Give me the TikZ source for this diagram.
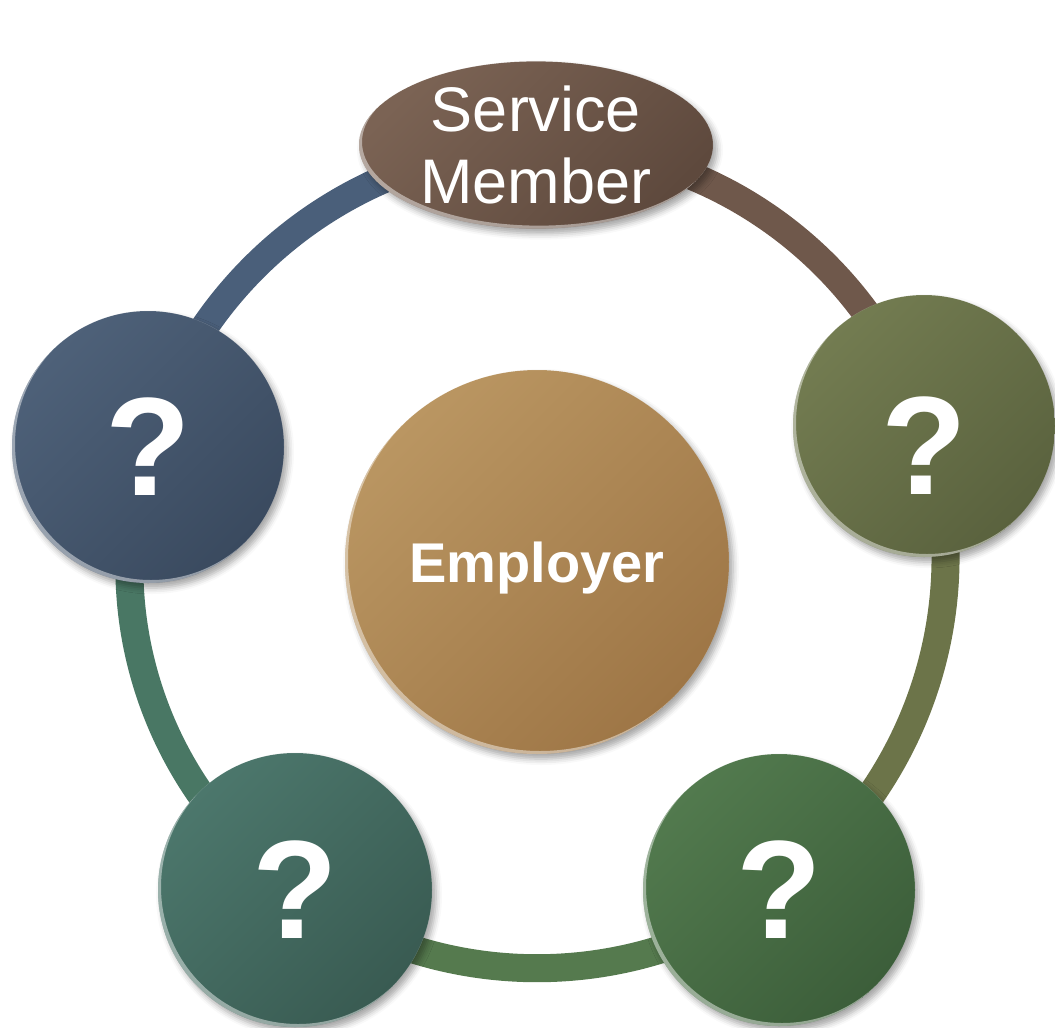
\documentclass[tikz,border=0pt]{standalone}
\usepackage{fontspec}
\setmainfont{Liberation Sans}
\usetikzlibrary{shapes.geometric}
\usetikzlibrary{calc,backgrounds,shadows.blur}

% fills of the bubbles (light, dark)
\definecolor{smlight}{HTML}{7B6354}\definecolor{smdark}{HTML}{5E493D}
\definecolor{emlight}{HTML}{BA9662}\definecolor{emdark}{HTML}{9E7646}
\definecolor{slatelight}{HTML}{4E6179}\definecolor{slatedark}{HTML}{3A4A5F}
\definecolor{olivelight}{HTML}{737C51}\definecolor{olivedark}{HTML}{5A623E}
\definecolor{teallight}{HTML}{4C776C}\definecolor{tealdark}{HTML}{395B52}
\definecolor{greenlight}{HTML}{527A4E}\definecolor{greendark}{HTML}{3C5E3A}
% ring pieces
\definecolor{ringslate}{HTML}{4A5F7A}
\definecolor{ringbrown}{HTML}{6F584B}
\definecolor{ringolive}{HTML}{6C7449}
\definecolor{ringgreen}{HTML}{557A4E}
\definecolor{ringteal}{HTML}{497764}

\begin{document}
\begin{tikzpicture}[every node/.style={inner sep=0pt,white},
	paint/.style 2 args={top color=#1, bottom color=#2, shading angle=45},
	bubble/.style={
		blur shadow={shadow xshift=4pt, shadow yshift=-5pt, shadow blur radius=6pt, shadow opacity=35},
		path picture={
			\fill[white, opacity=0.45, even odd rule]
			let \p1=($(path picture bounding box.north east)-(path picture bounding box.center)$) in
			(path picture bounding box.center) ellipse [x radius=\x1, y radius=\y1]
			([shift={(3pt,3pt)}]path picture bounding box.center) ellipse [x radius=\x1, y radius=\y1];
		}
	},
	ask/.style={font=\bfseries\fontsize{140}{140}\selectfont},
	every edge/.style={
	draw, line width=28pt, bend left=36, looseness=0.94,
	preaction={draw=black, opacity=0.15, transform canvas={shift={(3pt,-4pt)}}}
	}
]
\useasboundingbox (0pt, 0pt) rectangle (1055pt, -1028pt);

\node (sm) [ellipse, bubble, paint={smlight}{smdark}, minimum width=354pt, minimum height=165pt, align=center, font=\fontsize{63}{72}\selectfont] at (536pt, -145pt) {Service\\Member};
\node (emp) [circle, bubble, paint={emlight}{emdark}, minimum size=384pt, text depth=0pt, font=\bfseries\fontsize{56}{56}\selectfont] at (537pt, -562pt) {Employer};
\node (q1) [circle, bubble, ask, paint={olivelight}{olivedark}, minimum size=262pt, text height=136pt] at (924pt, -426pt) {?};
\node (q2) [circle, bubble, ask, paint={greenlight}{greendark}, minimum size=272pt] at (779pt, -890pt) {?};
\node (q3) [circle, bubble, ask, paint={teallight}{tealdark}, minimum size=274pt] at (295pt, -890pt) {?};
\node (q4) [circle, bubble, ask, paint={slatelight}{slatedark}, minimum size=272pt] at (148pt, -447pt) {?};

% the ring runs behind the bubbles
\begin{scope}[on background layer]
\path
(sm.center) edge[color=ringbrown] (q1.center)
(q1.center) edge[color=ringolive] (q2.center)
(q2.center) edge[color=ringgreen] (q3.center)
(q3.center) edge[color=ringteal] (q4.center)
(q4.center) edge[color=ringslate] (sm.center);
\end{scope}
\end{tikzpicture}
\end{document}
